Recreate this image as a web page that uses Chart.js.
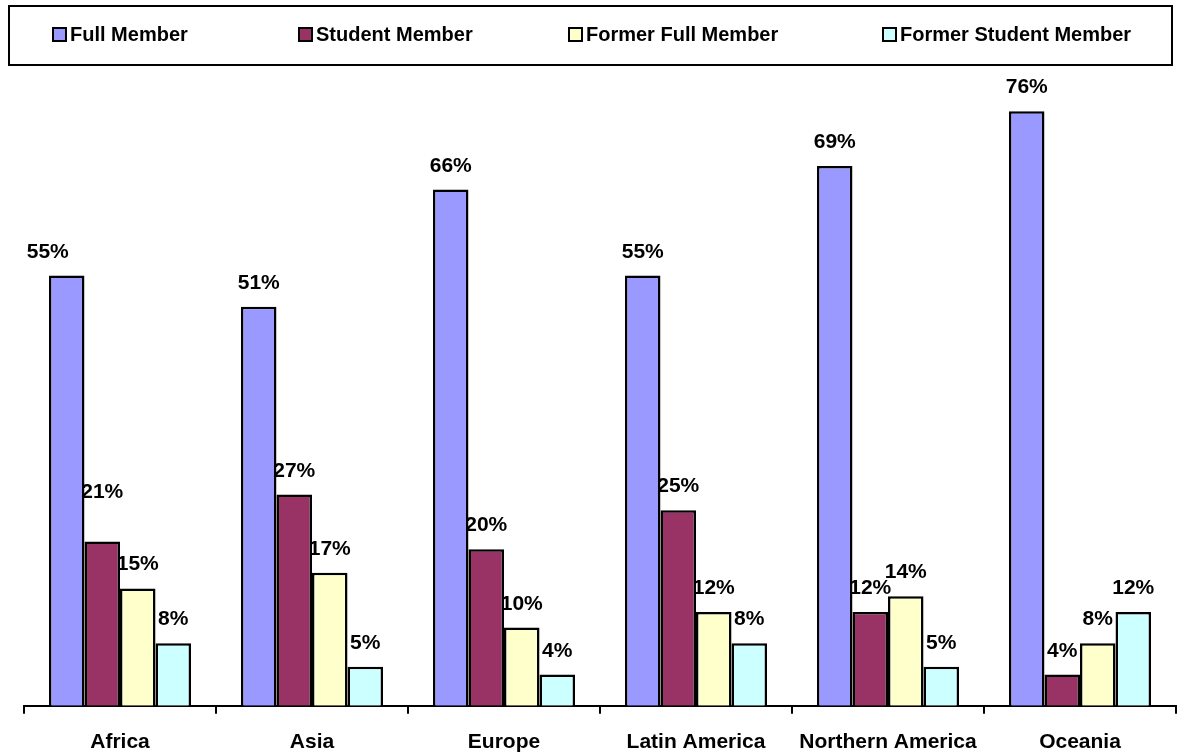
<!DOCTYPE html>
<html>
<head>
<meta charset="utf-8">
<script src="https://cdn.jsdelivr.net/npm/chart.js@4"></script>
<style>
  html, body { margin: 0; padding: 0; background: #fff; overflow: hidden; }
  #wrap { position: relative; width: 1177px; height: 753px; overflow: hidden; }
  #legend {
    position: absolute; left: 8px; top: 5px; width: 1161px; height: 57px;
    border: 2px solid #000; box-sizing: content-box;
    font: bold 20px "Liberation Sans", Arial, sans-serif; color: #000;
  }
  .item { position: absolute; top: 16px; display: flex; align-items: center; white-space: nowrap; }
  .box { width: 11px; height: 11px; border: 2px solid #000; margin-right: 3px; }
</style>
</head>
<body>
<div id="wrap">
  <canvas id="barChart" width="1177" height="771"></canvas>
  <div id="legend"></div>
</div>
<script>
const regions = ['Africa', 'Asia', 'Europe', 'Latin America', 'Northern America', 'Oceania'];
const seriesNames = ['Full Member', 'Student Member', 'Former Full Member', 'Former Student Member'];
const fullMember = [55, 51, 66, 55, 69, 76];
const studentMember = [21, 27, 20, 25, 12, 4];
const formerFullMember = [15, 17, 10, 12, 14, 8];
const formerStudentMember = [8, 5, 4, 8, 5, 12];
const colors = ['#9999FF', '#993366', '#FFFFCC', '#CCFFFF'];

const FONT = '"Liberation Sans", Arial, sans-serif';

// a couple of labels sit a bit off in the original
const labelNudge = { '0-0': [-19, 0], '1-0': [0, -26] };
const legendLeft = [42, 288, 558, 872];

const valueLabels = {
  id: 'valueLabels',
  afterDatasetsDraw(chart) {
    const ctx = chart.ctx;
    ctx.save();
    ctx.font = 'bold 21px ' + FONT;
    ctx.fillStyle = '#000';
    ctx.textAlign = 'center';
    ctx.textBaseline = 'alphabetic';
    chart.data.datasets.forEach((ds, di) => {
      chart.getDatasetMeta(di).data.forEach((bar, i) => {
        const n = labelNudge[di + '-' + i] || [0, 0];
        ctx.fillText(ds.data[i] + '%', bar.x + n[0], bar.y - 18 + n[1]);
      });
    });
    ctx.restore();
  }
};

function createBarChart() {
  const ctx = document.getElementById('barChart').getContext('2d');
  const values = [fullMember, studentMember, formerFullMember, formerStudentMember];
  return new Chart(ctx, {
    type: 'bar',
    data: {
      labels: regions,
      datasets: seriesNames.map((name, k) => ({
        label: name,
        data: values[k],
        backgroundColor: colors[k],
        borderColor: '#000',
        borderWidth: 2.5,
        borderSkipped: 'bottom'
      }))
    },
    options: {
      responsive: false,
      animation: false,
      layout: { padding: { top: 80, left: 24, right: 1, bottom: 0 } },
      categoryPercentage: 0.74,
      barPercentage: 1.0,
      plugins: { legend: { display: false }, tooltip: { enabled: false } },
      scales: {
        x: {
          grid: { display: true, drawOnChartArea: false, drawTicks: true, tickLength: 8, color: '#000', lineWidth: 2, offset: true },
          border: { display: true, color: '#000', width: 2 },
          ticks: { color: '#000', padding: 16, font: { family: FONT, size: 21, weight: 'bold' } }
        },
        y: { display: false, min: 0, max: 80 }
      }
    },
    plugins: [valueLabels]
  });
}

let barChart = createBarChart();

const legend = document.getElementById('legend');
barChart.data.datasets.forEach((ds, k) => {
  const item = document.createElement('div');
  item.className = 'item';
  item.style.left = legendLeft[k] + 'px';
  item.innerHTML = '<span class="box" style="background:' + ds.backgroundColor + '"></span><span>' + ds.label + '</span>';
  legend.appendChild(item);
});
</script>
</body>
</html>
